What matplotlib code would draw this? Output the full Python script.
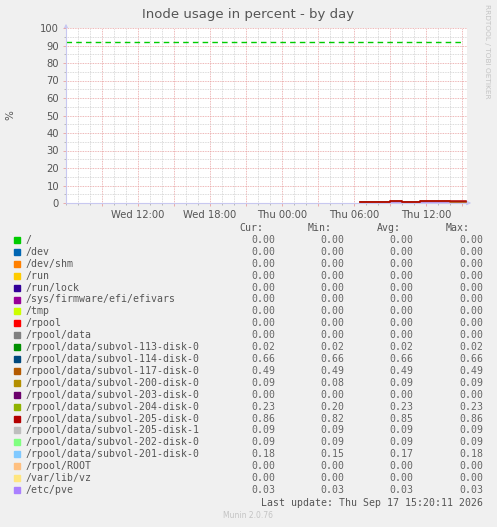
import numpy as np
import matplotlib.pyplot as plt
from matplotlib.ticker import MultipleLocator

# legend rows (munin default palette order)
labels = ['/', '/dev', '/dev/shm', '/run', '/run/lock', '/sys/firmware/efi/efivars',
          '/tmp', '/rpool', '/rpool/data',
          '/rpool/data/subvol-113-disk-0', '/rpool/data/subvol-114-disk-0',
          '/rpool/data/subvol-117-disk-0', '/rpool/data/subvol-200-disk-0',
          '/rpool/data/subvol-203-disk-0', '/rpool/data/subvol-204-disk-0',
          '/rpool/data/subvol-205-disk-0', '/rpool/data/subvol-205-disk-1',
          '/rpool/data/subvol-202-disk-0', '/rpool/data/subvol-201-disk-0',
          '/rpool/ROOT', '/var/lib/vz', '/etc/pve']
colors = ['#00CC00', '#0066B3', '#FF8000', '#FFCC00', '#330099', '#990099',
          '#CCFF00', '#FF0000', '#808080', '#008F00', '#00487D', '#B35A00',
          '#B38F00', '#6B006B', '#8FB300', '#B30000', '#BEBEBE', '#80FF80',
          '#80C9FF', '#FFC080', '#FFE680', '#AA80FF']
cur = [0, 0, 0, 0, 0, 0, 0, 0, 0, 0.02, 0.66, 0.49, 0.09, 0, 0.23, 0.86, 0.09, 0.09, 0.18, 0, 0, 0.03]
vmin = [0, 0, 0, 0, 0, 0, 0, 0, 0, 0.02, 0.66, 0.49, 0.08, 0, 0.20, 0.82, 0.09, 0.09, 0.15, 0, 0, 0.03]
vavg = [0, 0, 0, 0, 0, 0, 0, 0, 0, 0.02, 0.66, 0.49, 0.09, 0, 0.23, 0.85, 0.09, 0.09, 0.17, 0, 0, 0.03]
vmax = [0, 0, 0, 0, 0, 0, 0, 0, 0, 0.02, 0.66, 0.49, 0.09, 0, 0.23, 0.86, 0.09, 0.09, 0.18, 0, 0, 0.03]

# sample times, hours since Wed 00:00 (data only exists from Thu ~06:30)
times = [30.5, 33.0, 34.0, 35.5, 38.0, 39.33]
series = [
    [0, 0, 0, 0, 0, 0], [0, 0, 0, 0, 0, 0], [0, 0, 0, 0, 0, 0], [0, 0, 0, 0, 0, 0],
    [0, 0, 0, 0, 0, 0], [0, 0, 0, 0, 0, 0], [0, 0, 0, 0, 0, 0], [0, 0, 0, 0, 0, 0],
    [0, 0, 0, 0, 0, 0],
    [0.02, 0.02, 0.02, 0.02, 0.02, 0.02],
    [0.66, 0.66, 0.66, 0.66, 0.66, 0.66],
    [0.49, 1.2, 0.49, 1.2, 0.49, 0.49],
    [0.08, 0.09, 0.08, 0.09, 0.09, 0.09],
    [0, 0, 0, 0, 0, 0],
    [0.20, 0.23, 0.22, 0.23, 0.23, 0.23],
    [0.82, 0.86, 0.84, 0.86, 0.86, 0.86],
    [0.09, 0.09, 0.09, 0.09, 0.09, 0.09],
    [0.09, 0.09, 0.09, 0.09, 0.09, 0.09],
    [0.15, 0.17, 0.16, 0.18, 0.17, 0.18],
    [0, 0, 0, 0, 0, 0], [0, 0, 0, 0, 0, 0],
    [0.03, 0.03, 0.03, 0.03, 0.03, 0.03],
]
warning = 92
xticks = [9, 12, 15, 18, 21, 24, 27, 30, 33, 36, 39]
xticklabels = ['', 'Wed 12:00', '', 'Wed 18:00', '', 'Thu 00:00', '',
               'Thu 06:00', '', 'Thu 12:00', '']

W, H = 497, 527
bg = '#F0F0F0'
red_grid = '#e8a0a0'
fig = plt.figure(figsize=(W / 100, H / 100), dpi=100, facecolor=bg)

# overlay in pixel coordinates for all the munin text
tx = fig.add_axes([0, 0, 1, 1])
tx.set_xlim(0, W)
tx.set_ylim(H, 0)
tx.axis('off')

x0, x1, y0, y1 = 66, 467, 28, 203
ax = fig.add_axes([x0 / W, 1 - y1 / H, (x1 - x0) / W, (y1 - y0) / H])
ax.set_facecolor('white')
ax.set_xlim(6.0, 39.42)
ax.set_ylim(0, 100)

ax.set_xticks(xticks)
ax.set_xticklabels(xticklabels)
ax.xaxis.set_minor_locator(MultipleLocator(1))
ax.yaxis.set_major_locator(MultipleLocator(10))
ax.yaxis.set_minor_locator(MultipleLocator(5))
ax.grid(which='minor', color='#cfcfcf', linestyle=(0, (1, 1)), linewidth=0.6)
ax.grid(which='major', color=red_grid, linestyle=(0, (1, 1)), linewidth=0.6)
ax.set_axisbelow(True)

ax.tick_params(which='major', colors=red_grid, labelcolor='#555555', labelsize=7.2,
               length=2.5, width=0.6, pad=2.5)
ax.tick_params(which='minor', colors='#b0b0b0', length=1.5, width=0.6)
for s in ['top', 'right']:
    ax.spines[s].set_visible(False)
for s in ['left', 'bottom']:
    ax.spines[s].set_color('#c8c8f0')
    ax.spines[s].set_linewidth(0.8)
    ax.spines[s].set_zorder(3)

# axis arrows
tx.annotate('', xy=(x0, 21), xytext=(x0, 30),
            arrowprops=dict(arrowstyle='-|>', color='#c8c8f0', lw=0.8, mutation_scale=6))
tx.annotate('', xy=(474, y1), xytext=(465, y1),
            arrowprops=dict(arrowstyle='-|>', color='#c8c8f0', lw=0.8, mutation_scale=6))

ax.axhline(warning, xmin=0, xmax=(462 - x0) / (x1 - x0), color='#00CC00',
           linestyle=(0, (4, 3)), linewidth=1.0)
# higher lines on top, the near-zero ones disappear under the axis
for vals, c in zip(series, colors):
    z = 3.5 if max(vals) > 0.8 else 2
    ax.step(times, vals, where='post', color=c, linewidth=1.1, zorder=z)

# text
tx.text(248, 18, 'Inode usage in percent - by day', ha='center', va='baseline',
        fontsize=9.5, color='#555555')
tx.text(10, 115, '%', rotation=90, ha='center', va='center', fontsize=7.5, color='#555555')
tx.text(487, 4, 'RRDTOOL / TOBI OETIKER', rotation=270, ha='center', va='top',
        fontsize=5.3, color='#c4c4c4')

mono = dict(family='DejaVu Sans Mono', fontsize=7.1)
for hdr, xr in zip(['Cur:', 'Min:', 'Avg:', 'Max:'], [263, 332, 401, 470]):
    tx.text(xr, 228, hdr, ha='right', va='center', color='#555555', **mono)
for i, lab in enumerate(labels):
    yy = 240 + i * 11.9
    tx.add_patch(plt.Rectangle((14, yy - 3), 6, 6, color=colors[i]))
    tx.text(26, yy, lab, ha='left', va='center', color='#555555', **mono)
    for v, xr in zip([cur[i], vmin[i], vavg[i], vmax[i]], [275, 344, 413, 483]):
        tx.text(xr, yy, '%.2f' % v, ha='right', va='center', color='#666666', **mono)
tx.text(483, 503.5, 'Last update: Thu Sep 17 15:20:11 2026', ha='right', va='center',
        color='#555555', **mono)
tx.text(248, 516, 'Munin 2.0.76', ha='center', va='center', fontsize=5.5, color='#c4c4c4')

fig.savefig('out.png', dpi=100, facecolor=bg)
